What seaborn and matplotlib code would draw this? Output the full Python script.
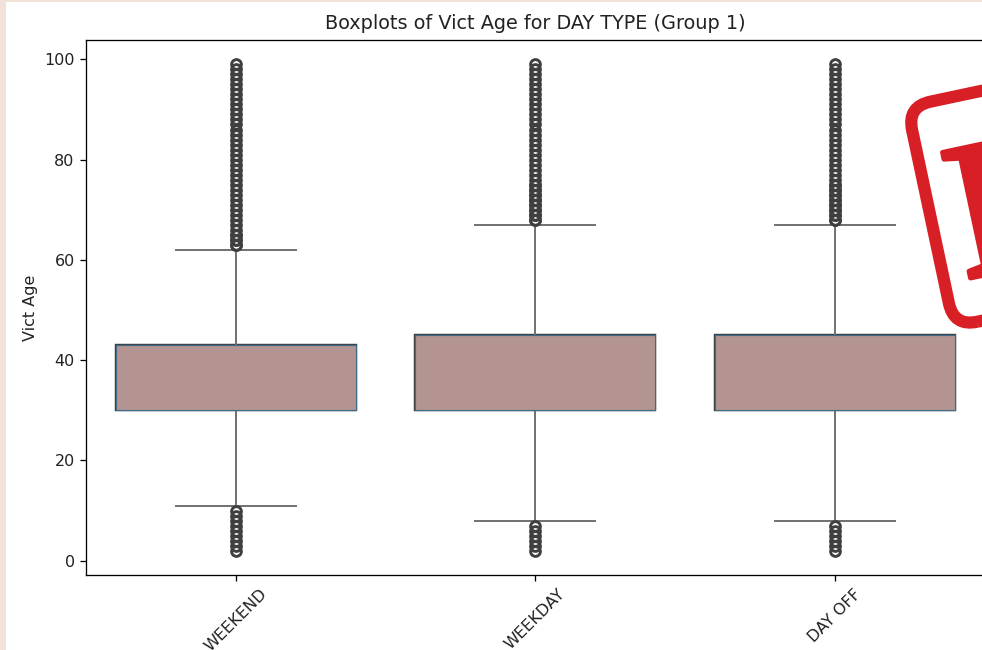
import numpy as np
import pandas as pd
import matplotlib
matplotlib.use("Agg")
import matplotlib.pyplot as plt
import matplotlib.patheffects as pe
import seaborn as sns
from matplotlib.patches import FancyBboxPatch, Rectangle
from matplotlib.transforms import Affine2D

# Victim age frequencies per day type, ages 2 to 99 (estimated from the box stats)
ages = list(range(2, 100))
day_types = ["WEEKEND", "WEEKDAY", "DAY OFF"]

weekend_counts = [1, 1, 1, 1, 1, 1, 1, 1, 1,
                  2, 2, 2, 3, 3, 4, 5, 6, 8,
                  10, 12, 14, 15, 16, 17, 18, 19, 20, 20,
                  40,
                  20, 19, 18, 17, 16, 15, 15, 14, 14, 13, 13, 12,
                  230,
                  12, 11, 11, 10, 10, 9, 9, 8, 8, 7, 7, 6, 6, 5, 5, 4, 4, 4, 3,
                  2, 2, 2, 1, 1, 1, 1, 1, 1, 1, 1, 1, 1, 1, 1, 1, 1, 1, 1,
                  1, 1, 1, 1, 1, 1, 1, 1, 1, 1, 1, 1, 1, 1, 1, 1, 1, 1]
weekday_counts = [1, 1, 1, 1, 1, 1,
                  2, 2, 2, 2, 3, 3, 4, 4, 5, 6, 8, 9,
                  10, 12, 14, 15, 16, 17, 18, 19, 20, 20,
                  40,
                  20, 19, 18, 17, 16, 15, 15, 14, 14, 13, 13, 12, 12, 12,
                  246,
                  11, 11, 10, 10, 9, 9, 8, 8, 7, 7, 6, 6, 5, 5, 4, 4, 4, 3, 3, 3, 2, 2,
                  2, 2, 2, 2, 2, 2, 2, 2, 1, 1, 1, 1, 1, 1, 1, 1,
                  1, 1, 1, 1, 1, 1, 1, 1, 1, 1, 1, 1, 1, 1, 1, 1]
dayoff_counts = [1, 1, 1, 1, 1, 1,
                 2, 2, 2, 3, 3, 3, 4, 4, 5, 6, 7, 9,
                 10, 12, 14, 15, 16, 17, 18, 19, 20, 20,
                 42,
                 20, 19, 18, 17, 16, 15, 15, 14, 14, 13, 13, 12, 12, 12,
                 244,
                 11, 11, 10, 10, 9, 9, 8, 8, 7, 7, 6, 6, 5, 5, 4, 4, 4, 3, 3, 3, 2, 2,
                 2, 2, 2, 2, 2, 2, 2, 2, 1, 1, 1, 1, 1, 1, 1, 1,
                 1, 1, 1, 1, 1, 1, 1, 1, 1, 1, 1, 1, 1, 1, 1, 1]

df = pd.DataFrame({
    "DAY TYPE": np.repeat(day_types, [sum(weekend_counts), sum(weekday_counts), sum(dayoff_counts)]),
    "Vict Age": np.concatenate([np.repeat(ages, weekend_counts),
                                np.repeat(ages, weekday_counts),
                                np.repeat(ages, dayoff_counts)]),
})

W, H = 982, 650
DPI = 117
plt.rcParams["font.size"] = 9.85
plt.rcParams["text.color"] = "#222222"
plt.rcParams["axes.labelcolor"] = "#222222"
plt.rcParams["xtick.labelcolor"] = "#222222"
plt.rcParams["ytick.labelcolor"] = "#222222"

fig = plt.figure(figsize=(W / DPI, H / DPI), dpi=DPI, facecolor="#f3e2d9")
# white card the screenshot was cut from
fig.patches.append(Rectangle((6 / W, 0), 1, 1 - 2 / H, transform=fig.transFigure,
                             facecolor="white", edgecolor="none", zorder=-1))
ax = fig.add_axes([86 / W, 1 - 575 / H, (984.5 - 86) / W, (575 - 40) / H])

# dark outline first, thin blue outline on top of it
sns.boxplot(
    data=df, x="DAY TYPE", y="Vict Age", ax=ax, color="#b39491", saturation=1,
    boxprops={"edgecolor": "#3c3f44", "linewidth": 1.5},
    whiskerprops={"color": "#707070", "linewidth": 1.2},
    capprops={"color": "#707070", "linewidth": 1.2},
    medianprops={"visible": False},
    flierprops={"markeredgecolor": "#3f3f3f", "markersize": 6, "markeredgewidth": 1.8},
)
sns.boxplot(
    data=df, x="DAY TYPE", y="Vict Age", ax=ax, color="#b39491", saturation=1,
    showfliers=False, showcaps=False,
    boxprops={"edgecolor": "#3f6b8a", "linewidth": 0.7},
    whiskerprops={"visible": False},
    medianprops={"visible": False},
)
ax.set_title("Boxplots of Vict Age for DAY TYPE (Group 1)", pad=6.5)
ax.set_xlabel("")
ax.tick_params(axis="x", labelrotation=45)

# red stamp laid over the corner of the chart
stamp = Affine2D().rotate_deg(12).translate(900, H - 102)
fig.patches.append(FancyBboxPatch((6, -231), 230, 225, boxstyle="round,pad=0,rounding_size=24",
                                  facecolor="none", edgecolor="#d91f26", linewidth=7.5,
                                  transform=stamp, zorder=5))
fig.text(966 / W, 1 - 279 / H, "P", color="#d91f26", fontsize=121, rotation=12,
         family="Liberation Serif", weight="bold", rotation_mode="anchor",
         ha="left", va="baseline", zorder=5,
         path_effects=[pe.withStroke(linewidth=3, foreground="#d91f26")])

fig.savefig("out.png", dpi=DPI, facecolor=fig.get_facecolor())
